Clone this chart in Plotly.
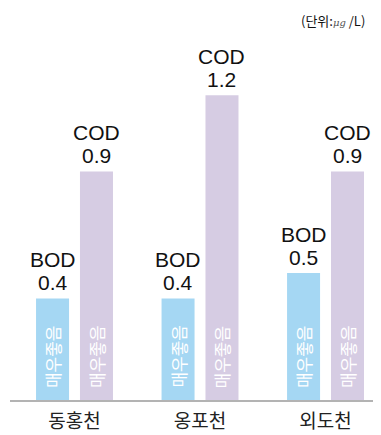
import plotly.graph_objects as go

# 하천별 수질 (단위: ㎍/L)
categories = ["동홍천", "옹포천", "외도천"]
bod_values = [0.4, 0.4, 0.5]
cod_values = [0.9, 1.2, 0.9]
bod_grades = ["매우좋음", "매우좋음", "매우좋음"]
cod_grades = ["매우좋음", "매우좋음", "매우좋음"]

BOD_COLOR = "#a5d7f3"
COD_COLOR = "#d6cce3"
LABEL_FONT = "Liberation Sans, Arial, sans-serif"
KR_FONT = "Noto Sans CJK KR, sans-serif"

BAR_W = 0.263
SHIFT = 0.175

fig = go.Figure()
series = [
    ("BOD", bod_values, bod_grades, BOD_COLOR, -SHIFT),
    ("COD", cod_values, cod_grades, COD_COLOR, SHIFT),
]
for name, vals, grades, color, shift in series:
    fig.add_trace(go.Bar(
        x=categories,
        y=vals,
        name=name,
        width=BAR_W,
        offset=shift - BAR_W / 2,
        marker=dict(color=color, line=dict(width=0)),
        hoverinfo="skip",
    ))

annotations = []
for name, vals, grades, color, shift in series:
    for i, v in enumerate(vals):
        xpos = i + shift
        # 값
        annotations.append(dict(
            x=xpos, y=v, xref="x", yref="y", text=f"{v:.1f}",
            showarrow=False, yanchor="bottom", yshift=2,
            font=dict(family=LABEL_FONT, size=21, color="#111"),
        ))
        # 항목명
        annotations.append(dict(
            x=xpos, y=v, xref="x", yref="y", text=name,
            showarrow=False, yanchor="bottom", yshift=25,
            font=dict(family=LABEL_FONT, size=21, color="#111"),
        ))
        # 등급 (세로 글씨)
        annotations.append(dict(
            x=xpos, y=0, xref="x", yref="y", text=grades[i],
            showarrow=False, yanchor="bottom", yshift=10, textangle=-90,
            font=dict(family=KR_FONT, size=17, color="white"),
        ))

annotations.append(dict(
    x=1, y=1, xref="paper", yref="paper", xanchor="right", yanchor="middle",
    xshift=-14, showarrow=False,
    text="(단위:<span style='font-family:DejaVu Serif;font-style:italic;"
         "font-size:10px;color:#555'>μg</span> /L)",
    font=dict(family=KR_FONT, size=13, color="#111"),
))

# 페이지 body 여백(8px)을 감안한 크기
fig.update_layout(
    width=373,
    height=427,
    margin=dict(l=2, r=0, t=12, b=35),
    paper_bgcolor="white",
    plot_bgcolor="white",
    barmode="overlay",
    showlegend=False,
    annotations=annotations,
    xaxis=dict(
        type="category",
        range=[-0.514, 2.442],
        showgrid=False,
        zeroline=False,
        showline=True,
        linecolor="#b3b3b3",
        linewidth=2,
        ticks="",
        ticklabelstandoff=3,
        tickfont=dict(family=KR_FONT, size=19, color="#222"),
        fixedrange=True,
    ),
    yaxis=dict(
        range=[0, 380 / 254],
        visible=False,
        fixedrange=True,
    ),
)

fig.write_html("out.html")
